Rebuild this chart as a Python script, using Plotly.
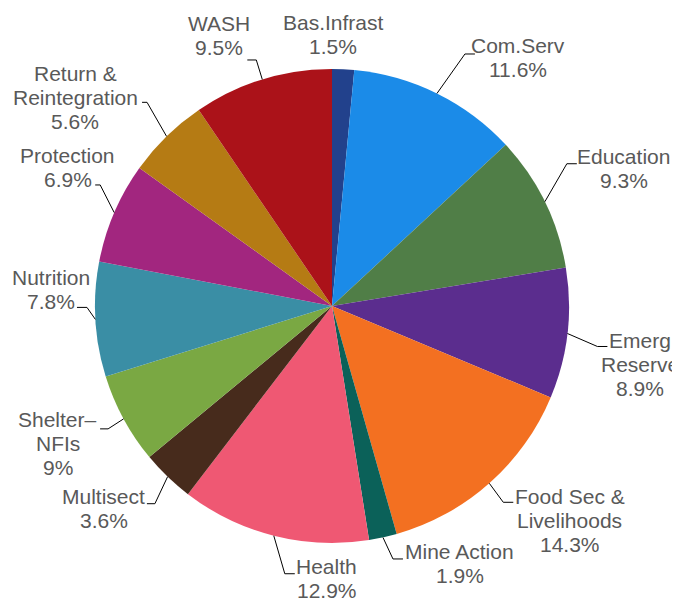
import math
import plotly.graph_objects as go

# ---- data ----
sectors = ["Bas.Infrast", "Com.Serv", "Education", "Emerg Reserve",
           "Food Sec & Livelihoods", "Mine Action", "Health", "Multisect",
           "Shelter–NFIs", "Nutrition", "Protection",
           "Return & Reintegration", "WASH"]
values = [1.5, 11.6, 9.3, 8.9, 14.3, 1.9, 12.9, 3.6, 6.2, 7.8, 6.9, 5.6, 9.5]
shown_pct = ["1.5%", "11.6%", "9.3%", "8.9%", "14.3%", "1.9%", "12.9%",
             "3.6%", "9%", "7.8%", "6.9%", "5.6%", "9.5%"]
label_lines = [["Bas.Infrast"], ["Com.Serv"], ["Education"], ["Emerg", "Reserve"],
               ["Food Sec &", "Livelihoods"], ["Mine Action"], ["Health"],
               ["Multisect"], ["Shelter–", "NFIs"], ["Nutrition"], ["Protection"],
               ["Return &", "Reintegration"], ["WASH"]]
colors = ["#22418C", "#1B8BE8", "#507E47", "#5B2D8E", "#F37021", "#0B6159",
          "#EF5873", "#472B1C", "#7AA843", "#3A8EA5", "#A2267F", "#B57B14",
          "#AB1219"]

# ---- layout / style ----
OFF = 8  # page body margin
W, H = 680 - OFF, 599 - OFF
CX, CY, R = 332 - OFF, 306 - OFF, 237
# leader-line elbow offsets (px) from the slice edge
elbow_off = [None, (28, -39.5), (22, -38), (30, 13), (14, 19), (10, 21.5),
             (11, 38), (-12.7, 27), (-15.5, 10), (-8.4, -12), (-14, -27.6),
             (-19.5, -34), (-6, -19.5)]
hseg = [0, 10, 10, 10, 10, 10, 10, 8, 8, 10, 5, 5, 9]
# label block centre relative to the end of the leader line
label_dx = [0, 43, 47, 33, 56.5, 56.7, 32, -43.4, -42.5, -25.5, -27.2, -66.7, -28.7]
label_dy = [0, 4, 5, 18, 18, 5, 4.5, 5, 15, -18, -17.5, -5, -24]
LINE_H = 24
FONT = dict(family="Liberation Sans, Arial, sans-serif", size=21, color="#595959")


def px(x):
    return x / W


def py(y):
    return 1 - y / H


fig = go.Figure(go.Pie(
    labels=sectors, values=values, sort=False, direction="clockwise",
    rotation=0, marker=dict(colors=colors, line=dict(width=0)),
    textinfo="none", hoverinfo="label+percent", showlegend=False,
    domain=dict(x=[px(CX - R), px(CX + R)], y=[py(CY + R), py(CY - R)]),
))

total = sum(values)
cum = 0
shapes, annotations = [], []
for i, v in enumerate(values):
    mid = (cum + v / 2) / total * 2 * math.pi
    cum += v
    lines = label_lines[i] + [shown_pct[i]]
    ex = CX + R * math.sin(mid)
    ey = CY - R * math.cos(mid)
    if elbow_off[i] is None:
        tcx, tcy = CX + 1, CY - R - 34
    else:
        dx, dy = elbow_off[i]
        bx, by = ex + dx, ey + dy
        side = 1 if dx > 0 else -1
        hx = bx + side * hseg[i]
        shapes.append(dict(type="path", xref="paper", yref="paper",
                           path=f"M {px(ex)},{py(ey)} L {px(bx)},{py(by)} L {px(hx)},{py(by)}",
                           line=dict(color="#000000", width=1)))
        tcx = hx + label_dx[i]
        tcy = by + label_dy[i]
    n = len(lines)
    for k, s in enumerate(lines):
        ly = tcy + (k - (n - 1) / 2) * LINE_H
        annotations.append(dict(x=px(tcx), y=py(ly), xref="paper", yref="paper",
                                text=s, showarrow=False, xanchor="center",
                                yanchor="middle", font=FONT))

fig.update_layout(width=W, height=H, margin=dict(l=0, r=0, t=0, b=0),
                  paper_bgcolor="white", plot_bgcolor="white",
                  shapes=shapes, annotations=annotations)
fig.write_html("out.html")
